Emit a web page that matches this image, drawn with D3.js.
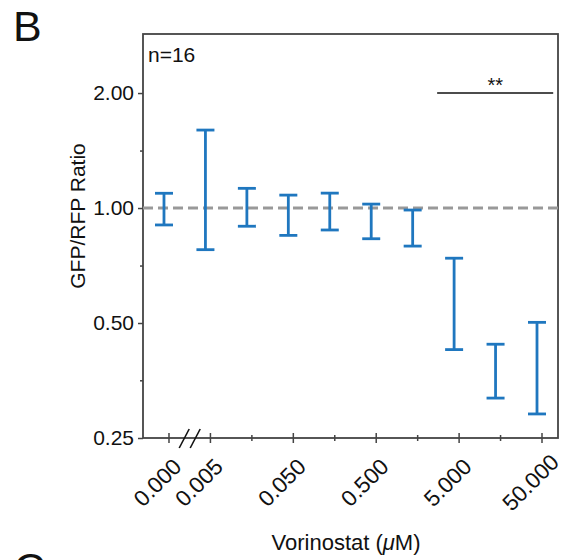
<!DOCTYPE html>
<html>
<head>
<meta charset="utf-8">
<script src="https://cdn.jsdelivr.net/npm/d3@7"></script>
<style>
  body { margin: 0; background: #fff; }
  svg text { font-family: "Liberation Sans", Arial, Helvetica, sans-serif; fill: #111; }
</style>
</head>
<body>
<svg id="chart" width="582" height="560"></svg>
<script>
// dose positions along the x axis (log spaced, with a break after 0)
var doseLabels = ["0.000", "0.005", "", "0.050", "", "0.500", "", "5.000", "", "50.000"];
// error bar ends (GFP/RFP ratio), one per dose
var upper = [1.093, 1.60, 1.126, 1.081, 1.094, 1.024, 0.988, 0.739, 0.440, 0.502];
var lower = [0.903, 0.778, 0.896, 0.848, 0.876, 0.831, 0.795, 0.426, 0.318, 0.289];
var yMajor = [0.25, 0.5, 1, 2];
var yMinor = [0.354, 0.707, 1.414];
var refLine = 1.0;
var sigSpan = [6.47, 9.27];   // in dose-index units
var sigLevel = 2.0;

var svg = d3.select("#chart");
var pLeft = 143, pRight = 558, pTop = 34, pBottom = 438;
var blue = "#1f77bf", axisCol = "#444";

var x = d3.scaleLinear().domain([-0.627, 9.386]).range([pLeft, pRight]);
var y = d3.scaleLog().base(2).domain([0.25, 2.855]).range([pBottom, pTop]);

// y axis
var yAxis = svg.append("g").attr("transform", "translate(" + pLeft + ",0)")
    .call(d3.axisLeft(y).tickValues(yMajor).tickSize(5).tickPadding(4).tickFormat(d3.format(".2f")));
yAxis.selectAll("text").style("font-size", "21px").attr("fill", "#111");
svg.append("g").attr("transform", "translate(" + pLeft + ",0)")
    .call(d3.axisLeft(y).tickValues(yMinor).tickSize(3).tickFormat(""))
    .call(function(g){ g.select(".domain").remove(); });
svg.selectAll(".tick line").attr("stroke", axisCol).attr("stroke-width", 1.5);
yAxis.select(".domain").remove();

// x ticks, crossing the axis line
var xt = svg.append("g");
doseLabels.forEach(function(lab, i){
    var len = lab ? 5 : 3;
    xt.append("line").attr("x1", x(i)).attr("x2", x(i))
        .attr("y1", pBottom - len).attr("y2", pBottom + len)
        .attr("stroke", axisCol).attr("stroke-width", 1.5);
    if (lab) {
        xt.append("text")
            .attr("transform", "translate(" + (x(i) - 6) + "," + (pBottom + 50) + ") rotate(-45)")
            .attr("text-anchor", "middle")
            .style("font-size", "22.5px")
            .text(lab);
    }
});

// frame
svg.append("rect").attr("x", pLeft).attr("y", pTop)
    .attr("width", pRight - pLeft).attr("height", pBottom - pTop)
    .attr("fill", "none").attr("stroke", axisCol).attr("stroke-width", 1.8);

// axis break marks
var bx = x(0.5);
[-5.5, 5.5].forEach(function(d){
    svg.append("line").attr("x1", bx + d - 5).attr("y1", pBottom + 10)
        .attr("x2", bx + d + 5).attr("y2", pBottom - 9)
        .attr("stroke", "#111").attr("stroke-width", 1.6);
});

// reference line at 1.0
svg.append("line").attr("x1", pLeft).attr("x2", pRight)
    .attr("y1", y(refLine)).attr("y2", y(refLine))
    .attr("stroke", "#999").attr("stroke-width", 3).attr("stroke-dasharray", "10,5");

// error bars
var bars = svg.append("g").selectAll("g").data(upper).enter().append("g")
    .attr("transform", function(d, i){ return "translate(" + (x(i) - 5) + ",0)"; });
bars.append("line").attr("y1", function(d){ return y(d); })
    .attr("y2", function(d, i){ return y(lower[i]); })
    .attr("stroke", blue).attr("stroke-width", 2.8);
bars.append("line").attr("x1", -9).attr("x2", 9)
    .attr("y1", function(d){ return y(d); }).attr("y2", function(d){ return y(d); })
    .attr("stroke", blue).attr("stroke-width", 2.8);
bars.append("line").attr("x1", -9).attr("x2", 9)
    .attr("y1", function(d, i){ return y(lower[i]); }).attr("y2", function(d, i){ return y(lower[i]); })
    .attr("stroke", blue).attr("stroke-width", 2.8);

// significance bar
svg.append("line").attr("x1", x(sigSpan[0])).attr("x2", x(sigSpan[1]))
    .attr("y1", y(sigLevel)).attr("y2", y(sigLevel))
    .attr("stroke", "#111").attr("stroke-width", 1.6);
svg.append("text").attr("x", x((sigSpan[0] + sigSpan[1]) / 2)).attr("y", y(sigLevel) - 1)
    .attr("text-anchor", "middle").style("font-size", "20px").text("**");

// labels
svg.append("text").attr("x", 148).attr("y", 62).style("font-size", "21px").text("n=16");
svg.append("text").attr("transform", "translate(85,216) rotate(-90)")
    .attr("text-anchor", "middle").style("font-size", "21px").text("GFP/RFP Ratio");
var xl = svg.append("text").attr("x", 346).attr("y", 550)
    .attr("text-anchor", "middle").style("font-size", "22px");
xl.append("tspan").text("Vorinostat (");
xl.append("tspan").style("font-style", "italic").text("\u03bc");
xl.append("tspan").text("M)");

svg.append("text").attr("x", 13).attr("y", 41).style("font-size", "43px").text("B");
svg.append("text").attr("x", 14).attr("y", 583).style("font-size", "43px").text("C");
</script>
</body>
</html>
